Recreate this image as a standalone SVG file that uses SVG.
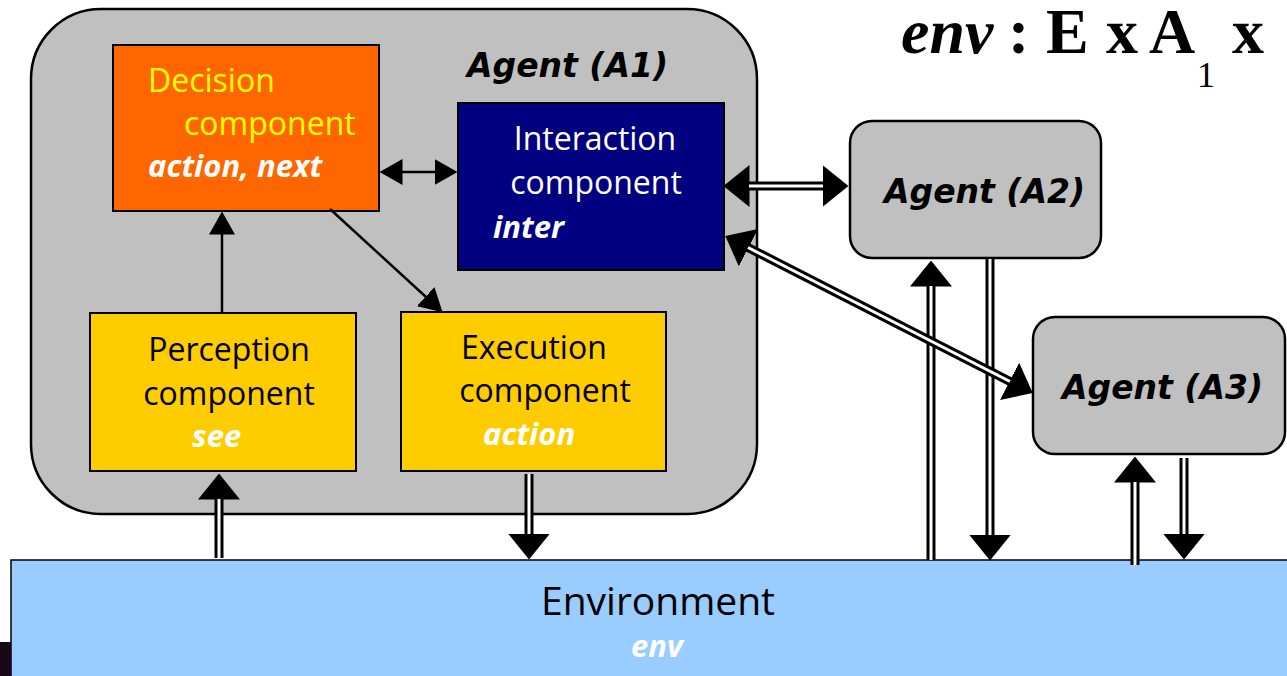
<svg xmlns="http://www.w3.org/2000/svg" width="1287" height="676" viewBox="0 0 1287 676">
  <style>
    .agent { fill: #c0c0c0; stroke: #000; stroke-width: 2.5; }
    .box { stroke: #000; stroke-width: 2; }
    .lbl { font-family: "Open Sans", "Liberation Sans", sans-serif; font-size: 32px; }
    .var { font-family: "Open Sans", "Liberation Sans", sans-serif; font-size: 31px; font-weight: bold; font-style: italic; fill: #fff; }
    .aname { font-family: "DejaVu Sans", "Liberation Sans", sans-serif; font-size: 33px; font-weight: bold; font-style: italic; fill: #000; }
    .thin { stroke: #000; stroke-width: 2.5; fill: none; }
    .dbl { stroke: #000; stroke-width: 9; fill: none; }
    .gap { stroke: #fff; stroke-width: 3; fill: none; }
    .formula { font-family: "Liberation Serif", "Times New Roman", serif; font-weight: bold; fill: #000; }
  </style>
  <defs>
    <marker id="big" markerUnits="userSpaceOnUse" viewBox="0 0 26 42" refX="0.5" refY="21" markerWidth="26" markerHeight="42" orient="auto-start-reverse">
      <path d="M0,0 L26,21 L0,42 Z" fill="#000"/>
    </marker>
    <marker id="small" markerUnits="userSpaceOnUse" viewBox="0 0 23 26" refX="0.5" refY="13" markerWidth="23" markerHeight="26" orient="auto-start-reverse">
      <path d="M0,0 L23,13 L0,26 Z" fill="#000"/>
    </marker>
  </defs>

  <rect width="1287" height="676" fill="#fff"/>

  <!-- formula -->
  <text class="formula" font-size="64" y="53">
    <tspan x="901" font-style="italic">env</tspan><tspan x="1008">:</tspan><tspan x="1046">E</tspan><tspan x="1106">x</tspan><tspan x="1149">A</tspan><tspan x="1197" y="87" font-size="36" font-weight="normal">1</tspan><tspan x="1232" y="53">x</tspan>
  </text>

  <!-- agent A1 with its components -->
  <g id="agentA1">
    <rect class="agent" x="31" y="9" width="726" height="505" rx="70" ry="70"/>
    <text class="aname" x="467" y="77">Agent (A1)</text>
  </g>

  <g id="decision">
    <rect class="box" x="113" y="45" width="266" height="166" fill="#ff6600"/>
    <text class="lbl" x="148" y="92" fill="#ffff00">Decision</text>
    <text class="lbl" x="184" y="135" fill="#ffff00">component</text>
    <text class="var" x="148" y="177">action, next</text>
  </g>

  <g id="interaction">
    <rect class="box" x="458" y="103" width="266" height="167" fill="#000080"/>
    <text class="lbl" x="595" y="150" fill="#fff" text-anchor="middle">Interaction</text>
    <text class="lbl" x="596" y="194" fill="#fff" text-anchor="middle">component</text>
    <text class="var" x="493" y="238">inter</text>
  </g>

  <g id="perception">
    <rect class="box" x="90" y="313" width="266" height="158" fill="#ffcc00"/>
    <text class="lbl" x="229" y="361" fill="#000" text-anchor="middle">Perception</text>
    <text class="lbl" x="229" y="405" fill="#000" text-anchor="middle">component</text>
    <text class="var" x="192" y="447">see</text>
  </g>

  <g id="execution">
    <rect class="box" x="401" y="312" width="265" height="159" fill="#ffcc00"/>
    <text class="lbl" x="461" y="359" fill="#000">Execution</text>
    <text class="lbl" x="545" y="402" fill="#000" text-anchor="middle">component</text>
    <text class="var" x="483" y="445">action</text>
  </g>

  <g id="agentA2">
    <rect class="agent" x="850" y="121" width="251" height="137" rx="22" ry="22"/>
    <text class="aname" x="884" y="203">Agent (A2)</text>
  </g>

  <g id="agentA3">
    <rect class="agent" x="1033" y="317" width="252" height="137" rx="22" ry="22"/>
    <text class="aname" x="1062" y="399">Agent (A3)</text>
  </g>

  <g id="environment">
    <rect x="11" y="560" width="1290" height="130" fill="#99ccff" stroke="#000" stroke-width="1.5"/>
    <text x="658" y="615" font-family="'Open Sans', 'Liberation Sans', sans-serif" font-size="39" fill="#000" text-anchor="middle">Environment</text>
    <text x="657" y="657" font-family="'Open Sans', 'Liberation Sans', sans-serif" font-size="31" font-weight="bold" font-style="italic" fill="#fff" text-anchor="middle">env</text>
  </g>
  <rect x="0" y="642" width="11" height="34" fill="#1a0818"/>

  <g id="connectors">
    <!-- single-line arrows inside the agent -->
    <line class="thin" x1="402" y1="172" x2="435" y2="172" marker-start="url(#small)" marker-end="url(#small)"/>
    <line class="thin" x1="222" y1="313" x2="222" y2="234" marker-end="url(#small)"/>
    <line class="thin" x1="330" y1="209" x2="426" y2="297" marker-end="url(#small)"/>

    <!-- double-line arrows -->
    <line class="dbl" x1="219" y1="558" x2="219" y2="499" marker-end="url(#big)"/>
    <line class="gap" x1="219" y1="558" x2="219" y2="499"/>

    <line class="dbl" x1="529" y1="474" x2="529" y2="534" marker-end="url(#big)"/>
    <line class="gap" x1="529" y1="474" x2="529" y2="534"/>

    <line class="dbl" x1="749" y1="186" x2="823" y2="186" marker-start="url(#big)" marker-end="url(#big)"/>
    <line class="gap" x1="749" y1="186" x2="823" y2="186"/>

    <line class="dbl" x1="931" y1="560" x2="931" y2="286" marker-end="url(#big)"/>
    <line class="gap" x1="931" y1="560" x2="931" y2="286"/>

    <line class="dbl" x1="990" y1="259" x2="990" y2="535" marker-end="url(#big)"/>
    <line class="gap" x1="990" y1="259" x2="990" y2="535"/>

    <line class="dbl" x1="748" y1="247.5" x2="1010" y2="381.5" marker-start="url(#big)" marker-end="url(#big)"/>
    <line class="gap" x1="748" y1="247.5" x2="1010" y2="381.5"/>

    <line class="dbl" x1="1135" y1="565" x2="1135" y2="482" marker-end="url(#big)"/>
    <line class="gap" x1="1135" y1="565" x2="1135" y2="482"/>

    <line class="dbl" x1="1184" y1="458" x2="1184" y2="534" marker-end="url(#big)"/>
    <line class="gap" x1="1184" y1="458" x2="1184" y2="534"/>
  </g>
</svg>
